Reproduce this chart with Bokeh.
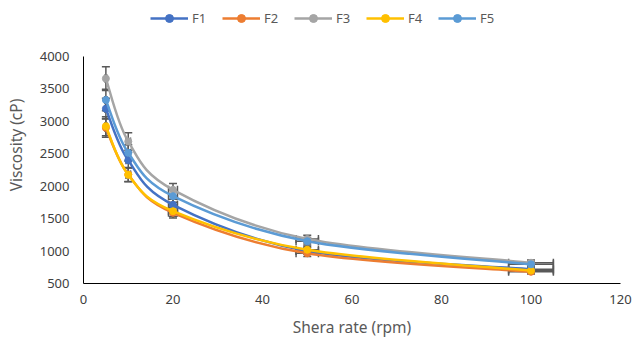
import numpy as np
from bokeh.plotting import figure
from bokeh.models import ColumnDataSource, Whisker, Legend, LegendItem, FixedTicker, TeeHead
from bokeh.embed import file_html
from bokeh.resources import INLINE

# ---- data ----
shear_rate = [5, 10, 20, 50, 100]
names = ["F1", "F2", "F3", "F4", "F5"]
F1 = [3195, 2400, 1713, 1000, 720]
F2 = [2900, 2180, 1590, 965, 680]
F3 = [3660, 2690, 1945, 1185, 820]
F4 = [2925, 2176, 1615, 1020, 700]
F5 = [3330, 2515, 1846, 1152, 795]
series = [F1, F2, F3, F4, F5]
colors = ["#4472C4", "#ED7D31", "#A5A5A5", "#FFC000", "#5B9BD5"]
err_pct = 0.05
x_ticks = [0, 20, 40, 60, 80, 100, 120]
y_ticks = [500, 1000, 1500, 2000, 2500, 3000, 3500, 4000]
y_min, y_max = 500, 4000

FONT = "Noto Sans"

# frame extends up to hold the legend; the y axis itself stops at y_max
FRAME_TOP, AXIS_TOP, AXIS_BOTTOM = 6, 56, 283
y_top = y_max + (AXIS_TOP - FRAME_TOP) / (AXIS_BOTTOM - AXIS_TOP) * (y_max - y_min)

p = figure(width=632, height=341, output_backend="svg", toolbar_location=None, title=None,
           x_range=(0, 120), y_range=(y_min, y_top),
           min_border_left=83, min_border_right=12, min_border_top=FRAME_TOP,
           min_border_bottom=341 - AXIS_BOTTOM)
p.outline_line_color = None
p.xgrid.visible = False
p.ygrid.visible = False
p.background_fill_color = "white"
p.border_fill_color = "white"

for ax in (p.xaxis[0], p.yaxis[0]):
    ax.axis_line_color = "black"
    ax.axis_line_width = 1
    ax.major_tick_line_color = None
    ax.minor_tick_line_color = None
    ax.major_tick_in = 0
    ax.major_tick_out = 0
    ax.major_label_text_font = FONT
    ax.major_label_text_font_size = "13px"
    ax.major_label_text_color = "#404040"
    ax.axis_label_text_font = FONT
    ax.axis_label_text_font_size = "15.5px"
    ax.axis_label_text_font_style = "normal"
    ax.axis_label_text_color = "#595959"

p.yaxis.bounds = (y_min, y_max)
p.xaxis.ticker = FixedTicker(ticks=x_ticks)
p.yaxis.ticker = FixedTicker(ticks=y_ticks)
p.xaxis.major_label_standoff = 11
p.yaxis.major_label_standoff = 14
p.xaxis.axis_label = "Shera rate (rpm)"
p.yaxis.axis_label = "Viscosity (cP)"
p.xaxis.axis_label_standoff = 9
p.yaxis.axis_label_standoff = 10


def smooth(x, y, t=1.0 / 6.0):
    x = np.asarray(x, float)
    y = np.asarray(y, float)
    n = len(x)
    d = dict(x0=[], y0=[], x1=[], y1=[], cx0=[], cy0=[], cx1=[], cy1=[])
    for i in range(n - 1):
        a = i - 1 if i > 0 else i
        b = i + 2 if i + 2 < n else i + 1
        d["x0"].append(x[i]); d["y0"].append(y[i])
        d["x1"].append(x[i + 1]); d["y1"].append(y[i + 1])
        d["cx0"].append(x[i] + (x[i + 1] - x[a]) * t)
        d["cy0"].append(y[i] + (y[i + 1] - y[a]) * t)
        d["cx1"].append(x[i + 1] - (x[b] - x[i]) * t)
        d["cy1"].append(y[i + 1] - (y[b] - y[i]) * t)
    return d


items = []
for name, vals, col in zip(names, series, colors):
    p.bezier(source=ColumnDataSource(smooth(shear_rate, vals)),
             x0="x0", y0="y0", x1="x1", y1="y1", cx0="cx0", cy0="cy0", cx1="cx1", cy1="cy1",
             line_color=col, line_width=2.5)
    sc = p.scatter(shear_rate, vals, size=7, marker="circle", fill_color=col, line_color=col)
    ln = p.line(x=[np.nan], y=[np.nan], line_color=col, line_width=2.5)
    items.append(LegendItem(label=name, renderers=[ln, sc]))

err_col = "#595959"
for vals in series:
    xs = np.array(shear_rate, float)
    ys = np.array(vals, float)
    src = ColumnDataSource(dict(x=xs, y=ys, yl=ys * (1 - err_pct), yu=ys * (1 + err_pct),
                                xl=xs * (1 - err_pct), xu=xs * (1 + err_pct)))
    wy = Whisker(source=src, base="x", lower="yl", upper="yu", dimension="height",
                 line_color=err_col, line_width=1.5,
                 upper_head=TeeHead(size=8, line_color=err_col, line_width=1.5),
                 lower_head=TeeHead(size=8, line_color=err_col, line_width=1.5))
    wx = Whisker(source=src, base="y", lower="xl", upper="xu", dimension="width",
                 line_color=err_col, line_width=1.5,
                 upper_head=TeeHead(size=8, line_color=err_col, line_width=1.5),
                 lower_head=TeeHead(size=8, line_color=err_col, line_width=1.5))
    p.add_layout(wy)
    p.add_layout(wx)

legend = Legend(items=items, orientation="horizontal", location=(67, 255),
                glyph_width=38, glyph_height=20, label_standoff=4, spacing=10,
                padding=0, margin=0, border_line_color=None, background_fill_alpha=0,
                label_text_font=FONT, label_text_font_size="13px", label_text_color="#595959")
p.add_layout(legend, "center")

open("out.html", "w").write(file_html(p, INLINE))
